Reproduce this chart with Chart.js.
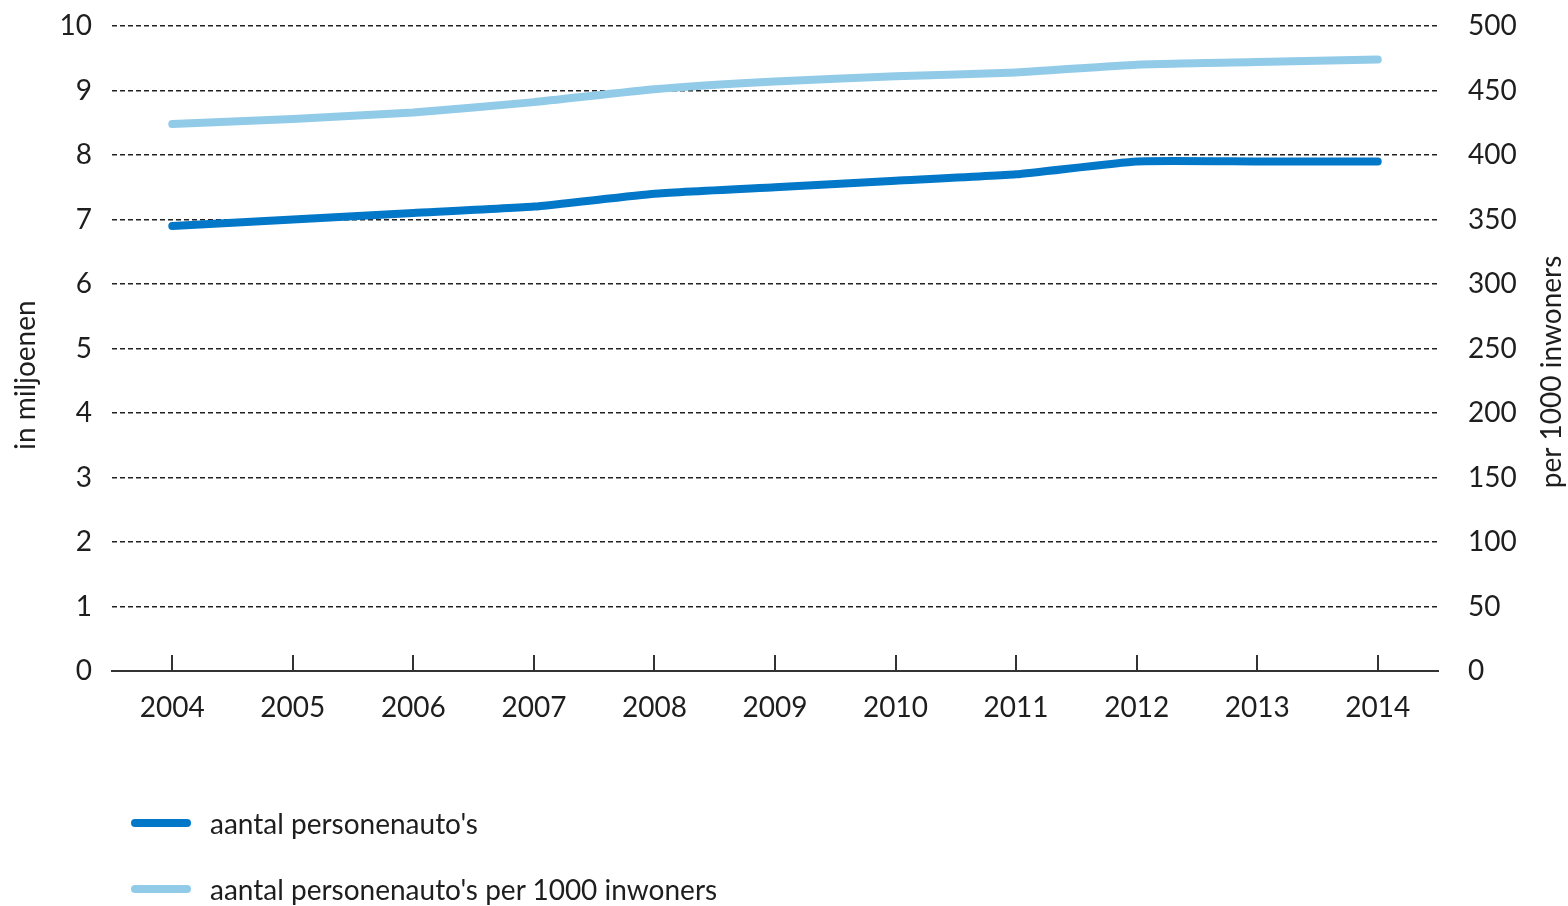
<!DOCTYPE html>
<html>
<head>
<meta charset="utf-8">
<script src="https://cdn.jsdelivr.net/npm/chart.js@4/dist/chart.umd.min.js"></script>
<style>
  html, body { margin: 0; padding: 0; background: #fff; }
  #wrap { position: relative; width: 1568px; height: 906px; overflow: hidden; }
  #c { position: absolute; left: 0; top: 0; }
  .leg { position: absolute; left: 131px; height: 30px; font-family: Lato, "Noto Sans", sans-serif; font-size: 28px; color: #1e1e1e; }
  .leg .bar { position: absolute; left: 0; top: 11px; width: 60px; height: 8px; border-radius: 4px; }
  .leg .txt { position: absolute; left: 79px; top: 0; line-height: 30px; white-space: nowrap; }
</style>
</head>
<body>
<div id="wrap">
  <canvas id="c" width="1568" height="906"></canvas>
  <div class="leg" id="leg0" style="top:808px"><div class="bar"></div><div class="txt"></div></div>
  <div class="leg" id="leg1" style="top:874px"><div class="bar"></div><div class="txt"></div></div>
</div>
<script>
// ---- data ----
const years = ["2004","2005","2006","2007","2008","2009","2010","2011","2012","2013","2014"];
const autosMiljoenen = [6.9, 7.0, 7.1, 7.2, 7.4, 7.5, 7.6, 7.7, 7.9, 7.9, 7.9];
const autosPer1000 = [424, 428, 433, 441, 451, 457, 461, 464, 470, 472, 474];
const seriesNames = ["aantal personenauto's", "aantal personenauto's per 1000 inwoners"];
const leftTitle = "in miljoenen";
const rightTitle = "per 1000 inwoners";

const colors = ["#0478c8", "#92cbe8"];
const FONT = "Lato, 'Noto Sans', sans-serif";
const TXT = "#1e1e1e";
const FS = 28;

// legend (HTML)
[0,1].forEach(i => {
  const el = document.getElementById('leg' + i);
  el.querySelector('.bar').style.background = colors[i];
  el.querySelector('.txt').textContent = seriesNames[i];
});

const extras = {
  id: 'extras',
  afterDatasetsDraw(chart) {
    const ctx = chart.ctx;
    const x = chart.scales.x;
    const area = chart.chartArea;
    ctx.save();
    ctx.strokeStyle = '#333';
    ctx.lineWidth = 2;
    for (let i = 0; i < years.length; i++) {
      const px = Math.round(x.getPixelForValue(i));
      ctx.beginPath();
      ctx.moveTo(px, area.bottom);
      ctx.lineTo(px, area.bottom - 16);
      ctx.stroke();
    }
    ctx.restore();
  },
  afterDraw(chart) {
    const ctx = chart.ctx;
    [[leftTitle, 26, 375], [rightTitle, 1552, 372]].forEach(([t, cx, cy]) => {
      ctx.save();
      ctx.fillStyle = TXT;
      ctx.font = FS + "px " + FONT;
      ctx.textAlign = 'center';
      ctx.textBaseline = 'middle';
      ctx.translate(cx, cy);
      ctx.rotate(-Math.PI / 2);
      ctx.fillText(t, 0, 0);
      ctx.restore();
    });
  }
};

function fixV(width) {
  return function (s) { s.width = width; s.paddingTop = 0; s.paddingBottom = 0; };
}

new Chart(document.getElementById('c'), {
  type: 'line',
  data: {
    labels: years,
    datasets: [
      {
        label: seriesNames[0],
        data: autosMiljoenen,
        yAxisID: 'y',
        borderColor: colors[0],
        backgroundColor: colors[0],
        borderWidth: 8,
        borderCapStyle: 'round',
        borderJoinStyle: 'round',
        pointRadius: 0,
        tension: 0.15
      },
      {
        label: seriesNames[1],
        data: autosPer1000,
        yAxisID: 'y1',
        borderColor: colors[1],
        backgroundColor: colors[1],
        borderWidth: 8,
        borderCapStyle: 'round',
        borderJoinStyle: 'round',
        pointRadius: 0,
        tension: 0.15
      }
    ]
  },
  options: {
    responsive: false,
    animation: false,
    devicePixelRatio: 1,
    layout: { padding: { top: 26, left: 0, right: 0, bottom: 0 } },
    plugins: {
      legend: { display: false },
      tooltip: { enabled: false }
    },
    scales: {
      x: {
        offset: true,
        grid: { display: false },
        border: { display: true, color: '#333', width: 2 },
        ticks: { color: TXT, font: { family: FONT, size: FS }, padding: 12, maxRotation: 0 },
        afterFit(s) { s.height = 906 - 671; }
      },
      y: {
        position: 'left',
        min: 0, max: 10,
        ticks: { stepSize: 1, color: TXT, font: { family: FONT, size: FS }, padding: 20 },
        grid: { color: '#222', lineWidth: 1.5, drawTicks: false, tickLength: 0 },
        border: { display: false, dash: [5, 3] },
        afterFit: fixV(112)
      },
      y1: {
        position: 'right',
        min: 0, max: 500,
        ticks: { stepSize: 50, color: TXT, font: { family: FONT, size: FS }, padding: 22 },
        grid: { display: false, drawOnChartArea: false },
        border: { display: false },
        afterFit: fixV(130)
      }
    }
  },
  plugins: [extras]
});
</script>
</body>
</html>
